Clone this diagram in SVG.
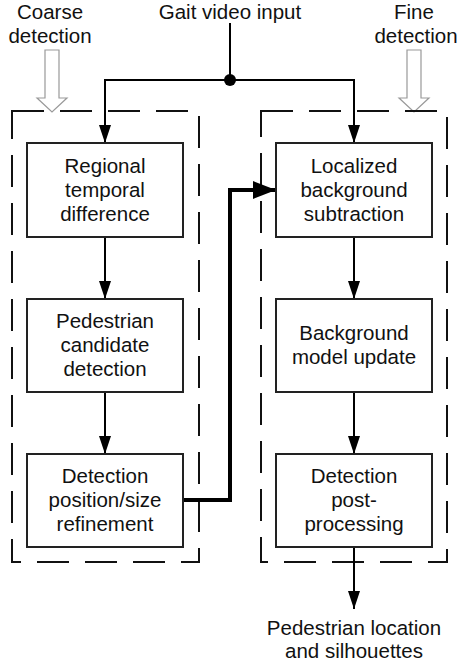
<svg xmlns="http://www.w3.org/2000/svg" width="463" height="663" viewBox="0 0 463 663">
<style>
text{font-family:"Liberation Sans",Arial,sans-serif;font-size:20.5px;fill:#111;text-anchor:middle}
.box{fill:#fff;stroke:#222;stroke-width:2}
.grp{fill:none;stroke:#111;stroke-width:2;stroke-dasharray:32 16}
.ln{fill:none;stroke:#000;stroke-width:2}
.thick{fill:none;stroke:#000;stroke-width:4}
.hollow{fill:#fff;stroke:#999;stroke-width:1.2}
</style>
<defs>
<marker id="ah" markerUnits="userSpaceOnUse" markerWidth="18" markerHeight="12" refX="18" refY="6" orient="auto">
<path d="M0,0 L18,6 L0,12 Z" fill="#000"/>
</marker>
<marker id="ahb" markerUnits="userSpaceOnUse" markerWidth="23" markerHeight="18" refX="23" refY="9" orient="auto">
<path d="M0,0 L23,9 L0,18 Z" fill="#000"/>
</marker>
</defs>
<g id="labels">
<text x="50" y="19">Coarse</text>
<text x="50" y="43">detection</text>
<text x="230" y="19">Gait video input</text>
<text x="414" y="19">Fine</text>
<text x="416" y="43">detection</text>
</g>
<g id="hollow-arrows">
<path class="hollow" d="M45,50 H59 V98 H67 L52,112 L37,98 H45 Z"/>
<path class="hollow" d="M407,50 H421 V98 H429 L414,112 L399,98 H407 Z"/>
</g>
<g id="coarse-group"><rect class="grp" x="12" y="111" width="187" height="451"/></g>
<g id="fine-group"><rect class="grp" x="261" y="111" width="186" height="451"/></g>
<g id="connectors">
<path class="ln" d="M230,23 V80"/>
<path class="ln" d="M230,80 H105 V143" marker-end="url(#ah)"/>
<path class="ln" d="M230,80 H354 V143" marker-end="url(#ah)"/>
<circle cx="230" cy="80" r="6" fill="#000"/>
<path class="ln" d="M105,237 V299" marker-end="url(#ah)"/>
<path class="ln" d="M105,392 V454" marker-end="url(#ah)"/>
<path class="ln" d="M354,237 V299" marker-end="url(#ah)"/>
<path class="ln" d="M354,392 V454" marker-end="url(#ah)"/>
<path class="thick" d="M183,500 H230 V190 H276" marker-end="url(#ahb)"/>
<path class="ln" d="M354,547 V609" marker-end="url(#ah)"/>
</g>
<g id="regional">
<rect class="box" x="27" y="143" width="156" height="94"/>
<text x="105" y="173">Regional</text><text x="105" y="197">temporal</text><text x="105" y="221">difference</text>
</g>
<g id="pedestrian">
<rect class="box" x="27" y="299" width="156" height="93"/>
<text x="105" y="328">Pedestrian</text><text x="105" y="352">candidate</text><text x="105" y="376">detection</text>
</g>
<g id="refinement">
<rect class="box" x="27" y="454" width="156" height="93"/>
<text x="105" y="483">Detection</text><text x="105" y="507">position/size</text><text x="105" y="531">refinement</text>
</g>
<g id="localized">
<rect class="box" x="276" y="143" width="156" height="94"/>
<text x="354" y="173">Localized</text><text x="354" y="197">background</text><text x="354" y="221">subtraction</text>
</g>
<g id="bgupdate">
<rect class="box" x="276" y="299" width="156" height="93"/>
<text x="354" y="340">Background</text><text x="354" y="364">model update</text>
</g>
<g id="postproc">
<rect class="box" x="276" y="454" width="156" height="93"/>
<text x="354" y="483">Detection</text><text x="354" y="507">post-</text><text x="354" y="531">processing</text>
</g>
<g id="output">
<text x="354" y="635">Pedestrian location</text>
<text x="354" y="658">and silhouettes</text>
</g>
</svg>
